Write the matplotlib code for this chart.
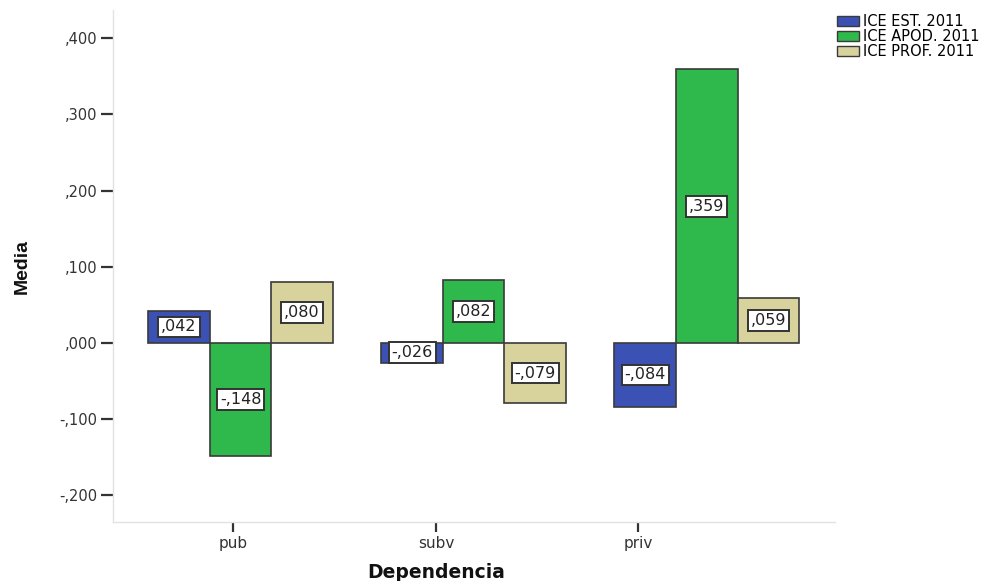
import matplotlib
matplotlib.use("Agg")
import matplotlib.pyplot as plt
from matplotlib.patches import Patch
import numpy as np

categories = ["pub", "subv", "priv"]
series_names = ["ICE EST. 2011", "ICE APOD. 2011", "ICE PROF. 2011"]
ice_est = [0.042, -0.026, -0.084]
ice_apod = [-0.148, 0.082, 0.359]
ice_prof = [0.080, -0.079, 0.059]
y_ticks = [-0.2, -0.1, 0.0, 0.1, 0.2, 0.3, 0.4]
y_tick_labels = ["-,200", "-,100", ",000", ",100", ",200", ",300", ",400"]

colors = ["#3b52b4", "#2fb84b", "#d8d29c"]
edge = "#3a3a3a"

plt.rcParams['font.family'] = ['DejaVu Sans']

fig = plt.figure(figsize=(9.99, 5.81), dpi=100)
ax = fig.add_axes([113/999, 59/581, 722/999, 512/581])

x = np.arange(len(categories))
w = 0.264
series = [ice_est, ice_apod, ice_prof]
for i, (vals, c) in enumerate(zip(series, colors)):
    xs = x + (i - 1) * w
    ax.bar(xs, vals, width=w, color=c, edgecolor=edge, linewidth=1.2, zorder=2)
    for xi, v in zip(xs, vals):
        s = ("-" if v < 0 else "") + "," + f"{abs(v):.3f}".split(".")[1]
        ax.text(xi, v / 2, s, ha="center", va="center", fontsize=11.5, color="#222222",
                zorder=3,
                bbox=dict(boxstyle="square,pad=0.18", facecolor="white",
                          edgecolor="#333333", linewidth=1.4))

ax.set_xlim(-0.547, 2.55)
ax.set_ylim(-0.235, 0.437)
ax.set_yticks(y_ticks)
ax.set_yticklabels(y_tick_labels, fontsize=10.5, color="#333333")
ax.set_xticks([-0.032, 0.839, 1.706])
ax.set_xticklabels(categories, fontsize=11, color="#333333")
ax.tick_params(axis="y", length=9, width=1.6, color="#333333", pad=2)
ax.tick_params(axis="x", length=7, width=1.6, color="#333333", pad=3)

for sp in ["top", "right"]:
    ax.spines[sp].set_visible(False)
for sp in ["left", "bottom"]:
    ax.spines[sp].set_color("#e2e2e2")
    ax.spines[sp].set_linewidth(1.0)

fig.text(436/999, 1 - 572/581, "Dependencia", ha="center", va="center",
         fontsize=13.5, fontweight="bold", color="#111111")
fig.text(22/999, 1 - 267/581, "Media", rotation=90, ha="center", va="center",
         fontsize=14, fontweight="bold", color="#111111",
         family=['Liberation Sans Narrow', 'Liberation Sans', 'DejaVu Sans'])

handles = [Patch(facecolor=c, edgecolor=edge, linewidth=1.0) for c in colors]
fig.legend(handles, series_names, loc="upper left", bbox_to_anchor=(837/999, 1 - 14/581),
           frameon=False, fontsize=10.5, handlelength=1.5, handleheight=0.75,
           handletextpad=0.3, labelspacing=0.0, borderpad=0.0, borderaxespad=0)

fig.savefig("out.png", dpi=100)
